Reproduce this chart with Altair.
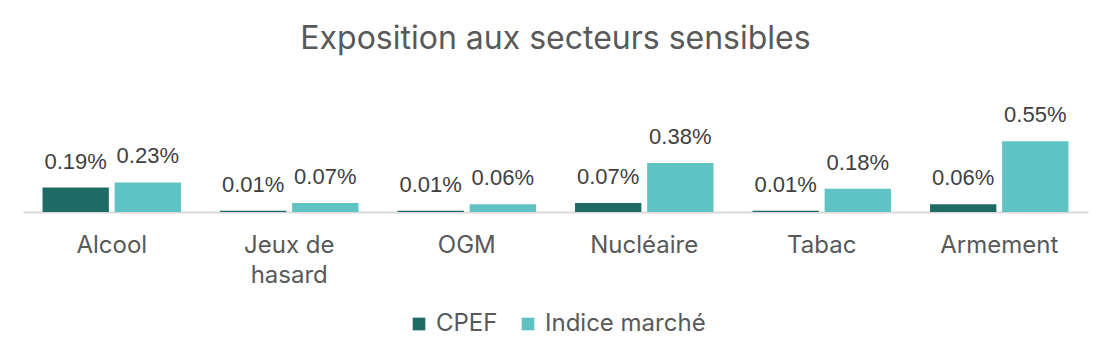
import altair as alt
import pandas as pd

categories = ["Alcool", "Jeux de hasard", "OGM", "Nucléaire", "Tabac", "Armement"]
cpef = [0.19, 0.01, 0.01, 0.07, 0.01, 0.06]
indice = [0.23, 0.07, 0.06, 0.38, 0.18, 0.55]
series = ["CPEF", "Indice marché"]
colors = ["#1e6a64", "#5fc3c3"]

rows = []
for c, a, b in zip(categories, cpef, indice):
    rows.append({"cat": c, "serie": series[0], "val": a})
    rows.append({"cat": c, "serie": series[1], "val": b})
df = pd.DataFrame(rows)
df["lab"] = df["val"].map(lambda v: f"{v:.2f}%")

FONT = "Inter"

x = alt.X("cat:N", sort=categories, title=None,
          scale=alt.Scale(paddingInner=0.22, paddingOuter=0.11),
          axis=alt.Axis(labelAngle=0, labelFont=FONT, labelFontSize=24,
                        labelColor="#595959", labelPadding=21, ticks=False,
                        domainColor="#d9d9d9", domainWidth=2,
                        labelLineHeight=30,
                        labelExpr="datum.label == 'Jeux de hasard' ? ['Jeux de', 'hasard'] : datum.label"))
xo = alt.XOffset("serie:N", sort=series, scale=alt.Scale(paddingInner=0.08))
y = alt.Y("val:Q", scale=alt.Scale(domain=[0, 0.8]), axis=None)

base = alt.Chart(df).encode(x=x, xOffset=xo, y=y)

bars = base.mark_bar().encode(
    color=alt.Color("serie:N", sort=series,
                    scale=alt.Scale(domain=series, range=colors),
                    legend=alt.Legend(title=None, orient="none", direction="horizontal",
                                      legendX=384, legendY=203, symbolType="square",
                                      symbolSize=160, symbolStrokeWidth=0,
                                      labelFont=FONT, labelFontSize=24,
                                      labelColor="#595959", columnPadding=18,
                                      labelOffset=5, labelLimit=400, symbolOpacity=1))
)

labels = base.mark_text(baseline="bottom", dy=-14, font="Liberation Sans",
                        fontSize=22, color="#404040").encode(text="lab:N")

chart = (bars + labels).properties(
    width=1065, height=103,
    title=alt.TitleParams("Exposition aux secteurs sensibles", font=FONT,
                          fontSize=32, fontWeight="normal", color="#595959",
                          anchor="middle", offset=48),
    autosize=alt.AutoSizeParams(type="none"),
    padding={"left": 23, "top": 109, "right": 19, "bottom": 145},
).configure_view(stroke=None)

chart.save("out.html", embed_options={"renderer": "svg", "actions": False})
